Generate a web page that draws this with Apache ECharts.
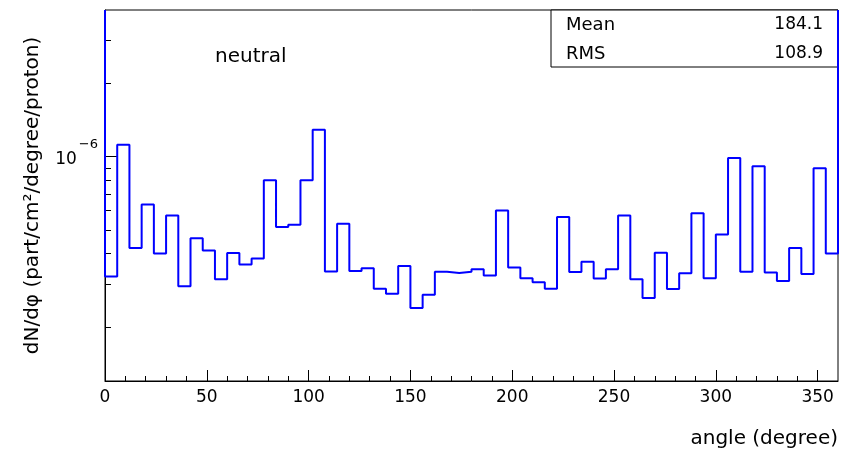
<!DOCTYPE html>
<html>
<head>
<meta charset="utf-8">
<script src="https://cdn.jsdelivr.net/npm/echarts@6/dist/echarts.min.js"></script>
<style>html,body{margin:0;padding:0;background:#fff}#c{width:842px;height:460px}</style>
</head>
<body>
<div id="c"></div>
<script>
// Bin edges (degrees)
const binEdges = [0,6,12,18,24,30,36,42,48,54,60,66,72,78,84,90,96,102,108,114,120,
  126,132,138,144,150,156,162,168,174,180,186,192,198,204,210,216,222,228,234,240,
  246,252,258,264,270,276,282,288,294,300,306,312,318,324,330,336,342,348,354,360];
// Bin contents dN/dphi (part/cm2/degree/proton)
const binValues = [
  3.22e-7, 1.12e-6, 4.22e-7, 6.36e-7, 4.00e-7, 5.73e-7, 2.94e-7, 4.63e-7, 4.12e-7, 3.14e-7,
  4.02e-7, 3.61e-7, 3.82e-7, 8.00e-7, 5.15e-7, 5.26e-7, 8.00e-7, 1.29e-6, 3.38e-7, 5.30e-7,
  3.39e-7, 3.48e-7, 2.87e-7, 2.74e-7, 3.56e-7, 2.39e-7, 2.71e-7, 3.37e-7, 3.33e-7, 3.37e-7,
  3.45e-7, 3.25e-7, 6.01e-7, 3.51e-7, 3.17e-7, 3.05e-7, 2.87e-7, 5.66e-7, 3.36e-7, 3.70e-7,
  3.16e-7, 3.45e-7, 5.73e-7, 3.14e-7, 2.63e-7, 4.03e-7, 2.86e-7, 3.32e-7, 5.86e-7, 3.17e-7,
  4.79e-7, 9.88e-7, 3.37e-7, 9.13e-7, 3.35e-7, 3.09e-7, 4.22e-7, 3.30e-7, 8.96e-7, 4.00e-7
];
// Axis ranges and ticks
const xMin = 0, xMax = 360;
const xMajorTicks = [0,50,100,150,200,250,300,350];
const xMinorTicks = [10,20,30,40,60,70,80,90,110,120,130,140,160,170,180,190,210,220,230,240,
  260,270,280,290,310,320,330,340];
const yMin = 1.2e-7, yMax = 4.0e-6;
const yMajorTicks = [1e-6];
const yMinorTicks = [2e-7,3e-7,4e-7,5e-7,6e-7,7e-7,8e-7,9e-7,2e-6,3e-6];
// Texts
const xTitle = 'angle (degree)';
const yTitle = 'dN/dφ (part/cm²/degree/proton)';
const histLabel = 'neutral';
const statNames = ['Mean', 'RMS'];
const statValues = ['184.1', '108.9'];

const FONT = 'DejaVu Sans';

// Step outline: edges of histogram (ROOT draws outer verticals up to the frame top)
const lineData = [[binEdges[0], yMax]];
for (let i = 0; i < binEdges.length; i++) {
  lineData.push([binEdges[i], binValues[Math.min(i, binValues.length - 1)]]);
}
lineData.push([binEdges[binEdges.length - 1], yMax]);

const chart = echarts.init(document.getElementById('c'), null, {renderer: 'canvas'});
const gridL = 105, gridT = 10, gridR = 4, gridB = 79;

const option = {
  animation: false,
  backgroundColor: '#fff',
  grid: {left: gridL, top: gridT, right: gridR, bottom: gridB, show: true,
         borderColor: '#000', borderWidth: 1, containLabel: false},
  xAxis: [
    {type: 'value', min: xMin, max: xMax, position: 'bottom', interval: 10,
     axisLine: {show: true, onZero: false, lineStyle: {color: '#000', width: 1}},
     axisTick: {show: true, inside: true, length: 5, customValues: xMinorTicks, lineStyle: {color: '#000'}},
     axisLabel: {show: true, customValues: xMajorTicks, color: '#000', fontFamily: FONT, fontSize: 17, margin: 8},
     splitLine: {show: false}},
    {type: 'value', min: xMin, max: xMax, position: 'bottom', interval: 50,
     axisLine: {show: false},
     axisTick: {show: true, inside: true, length: 11, customValues: xMajorTicks, lineStyle: {color: '#000'}},
     axisLabel: {show: false}, splitLine: {show: false}}
  ],
  yAxis: [
    {type: 'log', logBase: 10, min: yMin, max: yMax, position: 'left',
     axisLine: {show: true, onZero: false, lineStyle: {color: '#000', width: 1}},
     axisTick: {show: true, inside: true, length: 6, customValues: yMinorTicks, lineStyle: {color: '#000'}},
     axisLabel: {show: true, customValues: yMajorTicks, margin: 7, padding: [0,0,8,0],
       formatter: function (v) { return '{b|10}{s|−6}'; },
       rich: {
         b: {fontFamily: FONT, fontSize: 17, color: '#000', verticalAlign: 'bottom', lineHeight: 30},
         s: {fontFamily: FONT, fontSize: 13, color: '#000', verticalAlign: 'top', lineHeight: 30, padding: [0,0,10,2]}
       }},
     splitLine: {show: false}, minorTick: {show: false},
     name: yTitle, nameLocation: 'middle', nameGap: 62, nameRotate: 90,
     nameTextStyle: {fontFamily: FONT, fontSize: 20, color: '#000'}},
    {type: 'log', logBase: 10, min: yMin, max: yMax, position: 'left',
     axisLine: {show: false},
     axisTick: {show: true, inside: true, length: 12, customValues: yMajorTicks, lineStyle: {color: '#000'}},
     axisLabel: {show: false}, splitLine: {show: false}}
  ],
  series: [{
    type: 'line', xAxisIndex: 0, yAxisIndex: 0, step: 'end',
    data: lineData, showSymbol: false, symbol: 'none',
    lineStyle: {color: '#0000ff', width: 2}, z: 5
  }],
  graphic: [
    {type: 'text', left: 215, top: 47, style: {text: histLabel, font: '20px "DejaVu Sans"', fill: '#000'}},
    {type: 'text', right: 4, top: 429, style: {text: xTitle, font: '20px "DejaVu Sans"', fill: '#000'}},
    {type: 'rect', shape: {x: 551, y: 10, width: 287, height: 57}, z: 1,
     style: {fill: '#fff', stroke: '#000', lineWidth: 1}},
    {type: 'text', x: 566, y: 25, z: 2, style: {text: statNames[0], font: '18px "DejaVu Sans"', fill: '#000', verticalAlign: 'middle', textVerticalAlign: 'middle'}},
    {type: 'text', x: 823, y: 25, z: 2, style: {text: statValues[0], font: '17px "DejaVu Sans"', fill: '#000', align: 'right', textAlign: 'right', verticalAlign: 'middle', textVerticalAlign: 'middle'}},
    {type: 'text', x: 566, y: 54, z: 2, style: {text: statNames[1], font: '18px "DejaVu Sans"', fill: '#000', verticalAlign: 'middle', textVerticalAlign: 'middle'}},
    {type: 'text', x: 823, y: 54, z: 2, style: {text: statValues[1], font: '17px "DejaVu Sans"', fill: '#000', align: 'right', textAlign: 'right', verticalAlign: 'middle', textVerticalAlign: 'middle'}}
  ]
};
chart.setOption(option);
</script>
</body>
</html>
